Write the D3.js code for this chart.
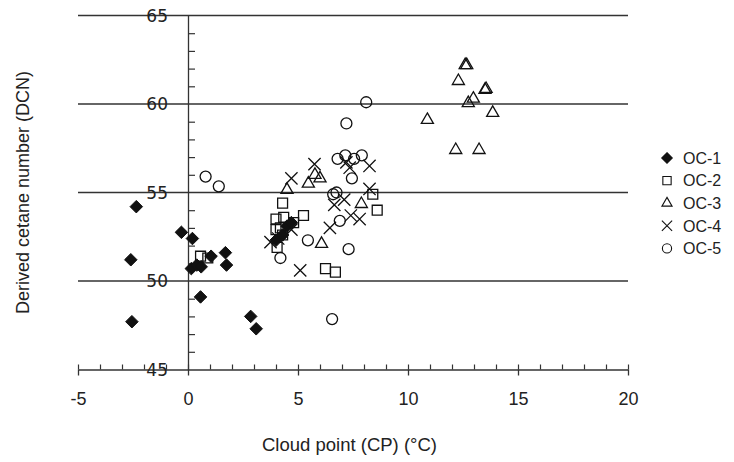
<!DOCTYPE html>
<html>
<head>
<meta charset="utf-8">
<script src="https://cdn.jsdelivr.net/npm/d3@7"></script>
<style>
  body { margin: 0; background: #fff; }
  svg text { font-family: "Liberation Sans", Arial, sans-serif; fill: #222; }
</style>
</head>
<body>
<div id="chart"></div>
<script>
// data: [cloud point (°C), derived cetane number]
const seriesNames = ["OC-1", "OC-2", "OC-3", "OC-4", "OC-5"];
const oc1 = [[-2.35, 54.2], [-2.6, 51.2], [-2.55, 47.7], [-0.3, 52.75], [0.2, 52.4], [0.15, 50.7],
  [0.4, 50.9], [0.6, 50.8], [0.57, 49.1], [1.05, 51.4], [1.7, 51.6], [1.75, 50.9], [2.85, 48.0],
  [3.1, 47.3], [4.0, 52.3], [4.3, 52.6], [4.5, 53.1], [4.7, 53.3]];
const oc2 = [[0.57, 51.4], [0.9, 51.3], [4.3, 54.4], [5.25, 53.7], [4.0, 53.5], [4.35, 53.6],
  [4.8, 53.3], [4.0, 52.9], [4.3, 52.6], [4.2, 53.0], [4.05, 51.9], [6.25, 50.7], [6.7, 50.5],
  [8.4, 54.9], [8.6, 54.0]];
const oc3 = [[4.5, 55.15], [5.47, 55.5], [5.77, 56.0], [6.0, 55.8], [6.07, 52.1], [7.88, 54.35],
  [10.88, 59.1], [12.6, 62.2], [12.67, 62.2], [12.29, 61.3], [13.55, 60.85], [13.5, 60.8],
  [12.97, 60.3], [12.74, 60.05], [13.85, 59.5], [12.17, 57.4], [13.23, 57.4]];
const oc4 = [[3.75, 52.2], [4.1, 52.4], [4.7, 55.8], [4.7, 52.9], [5.1, 50.6], [5.75, 56.6],
  [6.45, 53.0], [6.65, 54.3], [7.1, 54.6], [7.8, 53.5], [7.4, 53.7], [7.2, 56.7], [7.35, 56.4],
  [8.25, 56.5], [8.25, 55.2]];
const oc5 = [[0.8, 55.9], [1.4, 55.35], [4.2, 51.3], [5.45, 52.3], [6.9, 53.4], [7.3, 51.8],
  [6.6, 54.9], [6.75, 55.0], [7.45, 55.8], [8.1, 60.1], [7.2, 58.9], [6.8, 56.9], [7.15, 57.1],
  [7.55, 56.9], [7.9, 57.1], [6.55, 47.85]];
const xTicks = [-5, 0, 5, 10, 15, 20];
const yTicks = [45, 50, 55, 60, 65];

const svgW = 734, svgH = 462;
const margin = {top: 15.5, left: 78, right: 106, bottom: 92.5};
const width = svgW - margin.left - margin.right,
      height = svgH - margin.top - margin.bottom;

const svg = d3.select("#chart").append("svg")
    .attr("width", svgW)
    .attr("height", svgH);
const g = svg.append("g")
    .attr("transform", `translate(${margin.left}, ${margin.top})`);

const x = d3.scaleLinear().domain([-5, 20]).range([0, width]);
const y = d3.scaleLinear().domain([45, 65]).range([height, 0]);

// horizontal grid lines
g.selectAll(".grid")
  .data(yTicks.filter(d => d > 45))
  .join("line")
    .attr("x1", 0).attr("x2", width)
    .attr("y1", d => y(d)).attr("y2", d => y(d))
    .attr("stroke", "#333").attr("stroke-width", 1.3);

// x axis: majors cross the line, minors point up
const minorX = d3.range(-5, 21).filter(d => d % 5 !== 0);
const xAxisG = g.append("g").attr("transform", `translate(0, ${height})`);
xAxisG.call(d3.axisBottom(x).tickValues(xTicks).tickFormat(d => String(d))
      .tickSize(6).tickPadding(17).tickSizeOuter(0))
  .call(a => a.select(".domain").attr("stroke", "#333").attr("stroke-width", 1.3))
  .call(a => a.selectAll(".tick line").attr("stroke", "#333").attr("stroke-width", 1.3))
  .call(a => a.selectAll("text").style("font-size", "18px").attr("fill", "#222"));
xAxisG.append("g")
  .call(d3.axisTop(x).tickValues(xTicks.concat(minorX)).tickSize(5).tickFormat(""))
  .call(a => a.select(".domain").remove())
  .call(a => a.selectAll(".tick line").attr("stroke", "#333").attr("stroke-width", 1.2));

// y axis sits at x = 0
const minorY = d3.range(45, 66).filter(d => d % 5 !== 0);
g.append("g")
    .attr("transform", `translate(${x(0)}, 0)`)
  .call(d3.axisRight(y).tickValues(minorY).tickSize(7).tickFormat("").tickSizeOuter(0))
  .call(a => a.select(".domain").attr("stroke", "#333").attr("stroke-width", 1.3))
  .call(a => a.selectAll(".tick line").attr("stroke", "#333").attr("stroke-width", 1.2));

g.selectAll(".ylab")
  .data(yTicks)
  .join("text")
    .attr("x", x(0) - 20)
    .attr("y", d => y(d))
    .attr("dy", "0.36em")
    .attr("text-anchor", "end")
    .style("font-family", "'DejaVu Sans', sans-serif")
    .style("font-size", "17px")
    .text(d => d);

// axis titles
svg.append("text")
    .attr("x", 262)
    .attr("y", 451)
    .style("font-size", "18.5px")
    .text("Cloud point (CP) (°C)");

svg.append("text")
    .attr("transform", `translate(29, ${margin.top + height / 2}) rotate(-90)`)
    .attr("text-anchor", "middle")
    .style("font-size", "18px")
    .text("Derived cetane number (DCN)");

// markers
const shapes = [
  {sym: d3.symbolDiamond2, size: 100, fill: "#111"},
  {sym: d3.symbolSquare2, size: 125, fill: "none"},
  {sym: d3.symbolTriangle2, size: 105, fill: "none"},
  {sym: d3.symbolTimes, size: 100, fill: "none"},
  {sym: d3.symbolCircle, size: 95, fill: "none"}
];
const allSeries = [oc1, oc2, oc3, oc4, oc5];

// draw OC-1 last so the filled diamonds sit on top
[1, 2, 3, 4, 0].forEach(i => {
  const s = shapes[i];
  g.append("g").selectAll("path")
    .data(allSeries[i])
    .join("path")
      .attr("transform", d => `translate(${x(d[0])}, ${y(d[1])})`)
      .attr("d", d3.symbol().type(s.sym).size(s.size))
      .attr("fill", s.fill)
      .attr("stroke", "#111")
      .attr("stroke-width", i === 0 ? 1 : 1.3);
});

// legend
const legend = svg.append("g").attr("transform", "translate(667, 158)");
const rows = legend.selectAll("g")
  .data(seriesNames)
  .join("g")
    .attr("transform", (d, i) => `translate(0, ${i * 22.6})`);
rows.append("path")
    .attr("d", (d, i) => d3.symbol().type(shapes[i].sym).size(shapes[i].size * 0.7)())
    .attr("fill", (d, i) => shapes[i].fill)
    .attr("stroke", "#111")
    .attr("stroke-width", 1.1);
rows.append("text")
    .attr("x", 16)
    .attr("dy", "0.36em")
    .style("font-size", "16px")
    .text(d => d);
</script>
</body>
</html>
